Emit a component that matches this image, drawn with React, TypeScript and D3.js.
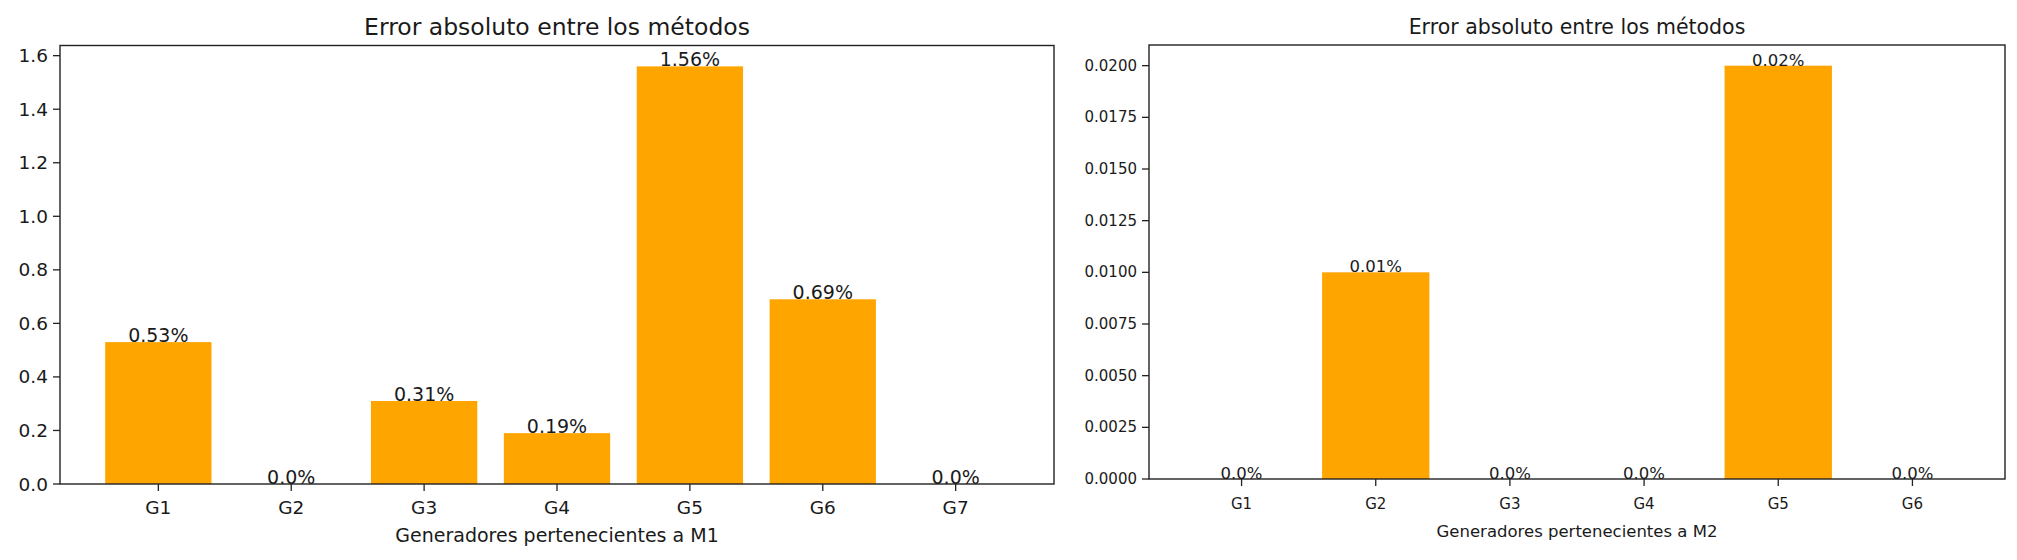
import React from "react";
import * as d3 from "d3";

// left chart: generators of M1
const catsM1 = ["G1", "G2", "G3", "G4", "G5", "G6", "G7"];
const errM1 = [0.53, 0.0, 0.31, 0.19, 1.56, 0.69, 0.0];
const lblM1 = ["0.53%", "0.0%", "0.31%", "0.19%", "1.56%", "0.69%", "0.0%"];
const ticksM1 = [0, 0.2, 0.4, 0.6, 0.8, 1.0, 1.2, 1.4, 1.6];

// right chart: generators of M2
const catsM2 = ["G1", "G2", "G3", "G4", "G5", "G6"];
const errM2 = [0.0, 0.01, 0.0, 0.0, 0.02, 0.0];
const lblM2 = ["0.0%", "0.01%", "0.0%", "0.0%", "0.02%", "0.0%"];
const ticksM2 = [0, 0.0025, 0.005, 0.0075, 0.01, 0.0125, 0.015, 0.0175, 0.02];

const FONT = "DejaVu Sans, sans-serif";
const BAR = "#FFA500";

type PanelProps = {
  cats: string[];
  values: number[];
  labels: string[];
  ticks: number[];
  tickFmt: (v: number) => string;
  title: string;
  xlabel: string;
  left: number;
  right: number;
  top: number;
  bottom: number;
  fs: number; // tick font
  lfs: number; // label font
  tfs: number; // title font
};

function Panel(p: PanelProps) {
  const n = p.cats.length;
  const lo = -0.4;
  const hi = n - 1 + 0.4;
  const pad = (hi - lo) * 0.05;
  const x = d3.scaleLinear().domain([lo - pad, hi + pad]).range([p.left, p.right]);
  const ymax = (d3.max(p.values) ?? 1) * 1.05;
  const y = d3.scaleLinear().domain([0, ymax]).range([p.bottom, p.top]);
  const cx = (p.left + p.right) / 2;
  const tick = 7;

  return (
    <g fontFamily={FONT} fill="#1a1a1a">
      {p.values.map((v, i) => (
        <rect
          key={"b" + i}
          x={x(i - 0.4)}
          width={x(i + 0.4) - x(i - 0.4)}
          y={y(v)}
          height={y(0) - y(v)}
          fill={BAR}
        />
      ))}
      {p.values.map((v, i) => (
        <text key={"l" + i} x={x(i)} y={y(v)} textAnchor="middle" fontSize={p.lfs}>
          {p.labels[i]}
        </text>
      ))}
      <rect
        x={p.left}
        y={p.top}
        width={p.right - p.left}
        height={p.bottom - p.top}
        fill="none"
        stroke="#222"
        strokeWidth={1.4}
      />
      {p.cats.map((c, i) => (
        <g key={"x" + i}>
          <line x1={x(i)} x2={x(i)} y1={p.bottom} y2={p.bottom + tick} stroke="#222" strokeWidth={1.3} />
          <text x={x(i)} y={p.bottom + 30} textAnchor="middle" fontSize={p.fs}>
            {c}
          </text>
        </g>
      ))}
      {p.ticks.map((t, i) => (
        <g key={"y" + i}>
          <line x1={p.left - tick} x2={p.left} y1={y(t)} y2={y(t)} stroke="#222" strokeWidth={1.3} />
          <text
            x={p.left - tick - 5}
            y={y(t)}
            textAnchor="end"
            dominantBaseline="central"
            fontSize={p.fs}
          >
            {p.tickFmt(t)}
          </text>
        </g>
      ))}
      <text x={cx} y={p.bottom + 58} textAnchor="middle" fontSize={p.lfs}>
        {p.xlabel}
      </text>
      <text x={cx} y={p.top - 11} textAnchor="middle" fontSize={p.tfs}>
        {p.title}
      </text>
    </g>
  );
}

export default function App() {
  return (
    <div style={{ position: "absolute", left: 0, top: 0 }}>
      <svg width={2017} height={560} style={{ display: "block", background: "#fff" }}>
        <Panel
          cats={catsM1}
          values={errM1}
          labels={lblM1}
          ticks={ticksM1}
          tickFmt={d3.format(".1f")}
          title="Error absoluto entre los métodos"
          xlabel="Generadores pertenecientes a M1"
          left={60}
          right={1054}
          top={45.5}
          bottom={484}
          fs={18.5}
          lfs={19}
          tfs={23.5}
        />
        <Panel
          cats={catsM2}
          values={errM2}
          labels={lblM2}
          ticks={ticksM2}
          tickFmt={d3.format(".4f")}
          title="Error absoluto entre los métodos"
          xlabel="Generadores pertenecientes a M2"
          left={1149}
          right={2005}
          top={45}
          bottom={479}
          fs={15}
          lfs={16.5}
          tfs={20.5}
        />
      </svg>
    </div>
  );
}
